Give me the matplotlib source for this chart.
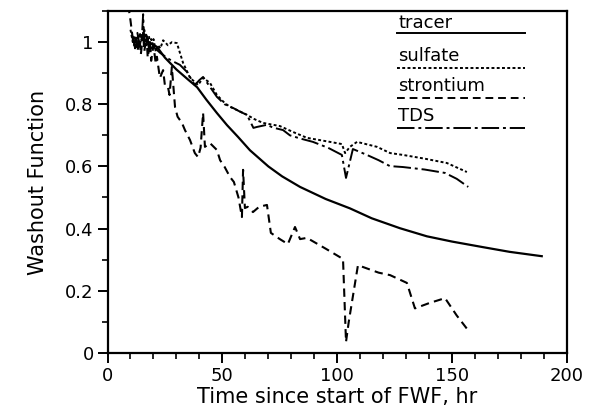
import numpy as np
import matplotlib
matplotlib.use("Agg")
import matplotlib.pyplot as plt
from matplotlib.ticker import MultipleLocator

# tracer (smooth curve)
tracer_t = [14, 18, 21.5, 25, 30, 35, 39, 43, 47.6, 52, 56.8, 62, 70, 76, 83.8,
            95, 105.5, 115, 127.3, 139, 150, 163.5, 175, 189]
tracer_w = [1.02, 1.0, 0.985, 0.95, 0.912, 0.88, 0.855, 0.815, 0.772, 0.733, 0.695,
            0.652, 0.60, 0.568, 0.534, 0.495, 0.465, 0.433, 0.401, 0.375, 0.358,
            0.340, 0.325, 0.311]

# sulfate (dotted)
sulfate_t = [10, 11, 12, 13, 14, 15, 16, 17, 18, 19, 20, 21, 22, 23, 24.2, 26.3, 28,
             30.2, 30.7, 32.9, 35, 35.9, 37.5, 39.4, 41.6, 44.6, 47.6, 51, 53.3, 56.2,
             60.7, 64, 67.7, 75, 80.7, 86.8, 96.8, 102, 103.4, 105.5, 108.6, 117.3,
             123, 128.6, 138, 147.7, 156.4]
sulfate_w = [1.04, 1.0, 1.02, 0.99, 1.03, 1.0, 1.04, 0.99, 1.02, 0.98, 1.01, 0.97,
             0.99, 0.98, 1.006, 0.99, 1.0, 0.997, 0.985, 0.933, 0.90, 0.885, 0.875,
             0.862, 0.885, 0.869, 0.83, 0.804, 0.792, 0.782, 0.766, 0.752, 0.74,
             0.73, 0.711, 0.692, 0.679, 0.672, 0.643, 0.663, 0.679, 0.663, 0.643,
             0.637, 0.625, 0.611, 0.582]

# strontium (dashed)
stront_t = [9, 10, 11, 11.5, 12.5, 13, 14, 14.5, 15.5, 16, 17, 17.5, 18.5, 19, 20, 21,
            21.5, 22.8, 24.2, 25, 26.3, 27, 28, 29.4, 30.5, 32.4, 33.7, 35.9, 38,
            39.4, 40.5, 41.6, 42.4, 44.6, 47.6, 49, 51, 53.3, 55, 57, 58.5, 59, 59.8,
            61, 63.3, 66, 69.4, 71.1, 75, 78.5, 81.6, 83.8, 86.8, 95, 102.5, 103.8,
            105, 109, 118, 123, 130.3, 133.8, 140, 146.9, 152, 156.9]
stront_w = [1.12, 1.07, 1.01, 0.99, 1.02, 0.97, 1.01, 0.96, 1.03, 0.97, 1.02, 0.95,
            1.0, 0.94, 0.99, 0.93, 0.953, 0.885, 0.91, 0.86, 0.856, 0.83, 0.92, 0.79,
            0.76, 0.74, 0.717, 0.685, 0.643, 0.63, 0.66, 0.772, 0.663, 0.675, 0.653,
            0.62, 0.598, 0.566, 0.55, 0.50, 0.437, 0.589, 0.466, 0.47, 0.453, 0.47,
            0.476, 0.386, 0.366, 0.350, 0.405, 0.366, 0.370, 0.335, 0.302, 0.035,
            0.10, 0.282, 0.258, 0.25, 0.225, 0.143, 0.16, 0.176, 0.12, 0.073]

# TDS (dash-dot)
tds_t = [11, 12, 13, 14, 15, 15.5, 16, 17, 18, 19, 20, 23, 26, 28, 31.5, 34.6, 38, 40,
         41.6, 44.6, 47.6, 51, 54.7, 58, 60.7, 63.5, 65, 69.4, 72, 76.4, 79.4, 83.8,
         89.4, 96, 102, 103.8, 106.8, 112.9, 118, 122.9, 128.6, 138, 146.9, 152, 157]
tds_w = [1.02, 0.98, 1.03, 0.99, 1.02, 1.09, 1.0, 1.03, 0.98, 1.01, 0.985, 0.965,
         0.949, 0.94, 0.927, 0.904, 0.862, 0.878, 0.888, 0.856, 0.824, 0.80, 0.788,
         0.775, 0.766, 0.724, 0.727, 0.734, 0.725, 0.717, 0.70, 0.69, 0.679, 0.66,
         0.637, 0.563, 0.656, 0.637, 0.62, 0.601, 0.598, 0.59, 0.579, 0.56, 0.534]

styles = {
    "tracer": "-",
    "sulfate": (0, (1.5, 1.2)),
    "strontium": (0, (4, 2.5)),
    "TDS": (0, (9, 2, 1.5, 2)),
}

plt.rcParams["font.family"] = "DejaVu Sans"
fig = plt.figure(figsize=(5.94, 4.19), dpi=100)
ax = fig.add_axes([0.181, 0.158, 0.7736, 0.8155])

ax.plot(tracer_t, tracer_w, color="k", lw=1.6, ls=styles["tracer"])
ax.plot(sulfate_t, sulfate_w, color="k", lw=1.4, ls=styles["sulfate"])
ax.plot(stront_t, stront_w, color="k", lw=1.5, ls=styles["strontium"])
ax.plot(tds_t, tds_w, color="k", lw=1.4, ls=styles["TDS"])

ax.set_xlim(0, 200)
ax.set_ylim(0, 1.1)
ax.xaxis.set_major_locator(MultipleLocator(50))
ax.xaxis.set_minor_locator(MultipleLocator(10))
ax.yaxis.set_major_locator(MultipleLocator(0.2))
ax.yaxis.set_minor_locator(MultipleLocator(0.1))
ax.set_yticks([0, 0.2, 0.4, 0.6, 0.8, 1.0])
ax.set_yticklabels(["0", "0.2", "0.4", "0.6", "0.8", "1"])
ax.tick_params(which="major", direction="out", length=7, width=1.4, labelsize=13, pad=3)
ax.tick_params(which="minor", direction="out", length=4, width=1.2)
for s in ax.spines.values():
    s.set_linewidth(1.6)

ax.set_xlabel("Time since start of FWF, hr", fontsize=15, labelpad=2)
ax.set_ylabel("Washout Function", fontsize=15, labelpad=12)

# hand-drawn style key: label above a line sample
key_names = ["tracer", "sulfate", "strontium", "TDS"]
key_line_y = [0.9356, 0.8329, 0.7451, 0.6573]
key_text_y = [0.965, 0.868, 0.780, 0.692]
for name, ly, ty in zip(key_names, key_line_y, key_text_y):
    ax.plot([0.630, 0.9086], [ly, ly], transform=ax.transAxes, color="k",
            lw=1.4, ls=styles[name], clip_on=False)
    ax.text(0.6322, ty, name, transform=ax.transAxes, fontsize=13,
            ha="left", va="center")

fig.savefig("out.png", dpi=100)
